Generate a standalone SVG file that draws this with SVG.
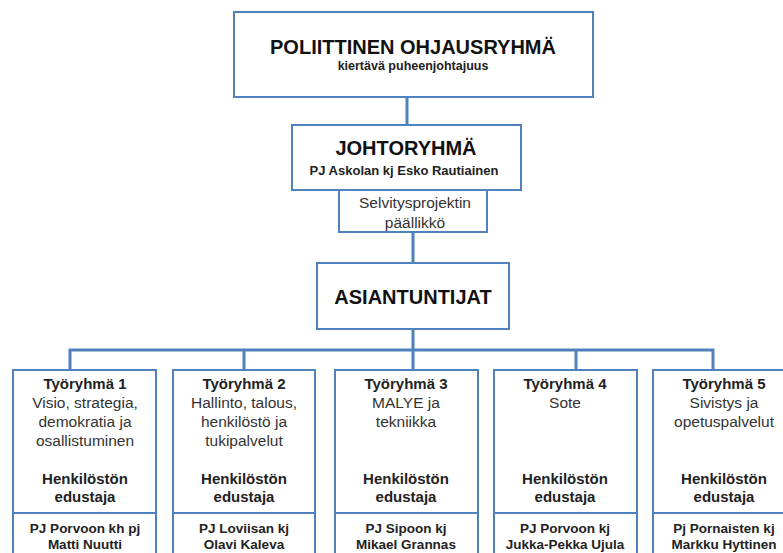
<svg xmlns="http://www.w3.org/2000/svg" width="783" height="553" viewBox="0 0 783 553">
<style>
.box{fill:#fff;stroke:#4f81bd;stroke-width:2}
.con{fill:none;stroke:#4f81bd;stroke-width:3}
text{font-family:"Liberation Sans",Arial,sans-serif;text-anchor:middle}
.h1{font-size:20px;font-weight:bold;fill:#111}
.b12{font-size:12.5px;font-weight:bold;fill:#222}
.b13{font-size:13px;font-weight:bold;fill:#222}
.b15{font-size:15px;font-weight:bold;fill:#222}
.r16{font-size:15.5px;fill:#333}
.b14{font-size:13.5px;font-weight:bold;fill:#222}
</style>
<rect width="783" height="553" fill="#fff"/>
<g id="connectors">
<line class="con" x1="407" y1="97" x2="407" y2="125"/>
<line class="con" x1="413" y1="232" x2="413" y2="263"/>
<line class="con" x1="413" y1="329" x2="413" y2="350"/>
<polyline class="con" points="70,370 70,350 713,350 713,370"/>
<line class="con" x1="244" y1="350" x2="244" y2="370"/>
<line class="con" x1="413" y1="350" x2="413" y2="370"/>
<line class="con" x1="576" y1="350" x2="576" y2="370"/>
</g>
<g id="poliittinen">
<rect class="box" x="234" y="12" width="359" height="85"/>
<text class="h1" x="413" y="54">POLIITTINEN OHJAUSRYHMÄ</text>
<text class="b12" x="413" y="70">kiertävä puheenjohtajuus</text>
</g>
<g id="johtoryhma">
<rect class="box" x="292" y="125" width="229" height="65"/>
<text class="h1" x="406" y="155">JOHTORYHMÄ</text>
<text class="b13" x="404" y="175">PJ Askolan kj Esko Rautiainen</text>
</g>
<g id="selvitys">
<rect class="box" x="339" y="190" width="148" height="42"/>
<text class="r16" x="415" y="208">Selvitysprojektin</text>
<text class="r16" x="415" y="228">päällikkö</text>
</g>
<g id="asiantuntijat">
<rect class="box" x="317" y="263" width="192" height="66"/>
<text class="h1" x="413" y="304">ASIANTUNTIJAT</text>
</g>
<g id="tr1">
<rect class="box" x="13" y="370" width="143" height="195"/>
<line class="box" x1="13" y1="513" x2="156" y2="513"/>
<text class="b15" x="85" y="389">Työryhmä 1</text>
<text class="r16" x="85" y="408">Visio, strategia,</text>
<text class="r16" x="85" y="427">demokratia ja</text>
<text class="r16" x="85" y="446">osallistuminen</text>
<text class="b15" x="85" y="484">Henkilöstön</text>
<text class="b15" x="85" y="502">edustaja</text>
<text class="b14" x="85" y="533">PJ Porvoon kh pj</text>
<text class="b14" x="85" y="549">Matti Nuutti</text>
</g>
<g id="tr2">
<rect class="box" x="173" y="370" width="142" height="195"/>
<line class="box" x1="173" y1="513" x2="315" y2="513"/>
<text class="b15" x="244" y="389">Työryhmä 2</text>
<text class="r16" x="244" y="408">Hallinto, talous,</text>
<text class="r16" x="244" y="427">henkilöstö ja</text>
<text class="r16" x="244" y="446">tukipalvelut</text>
<text class="b15" x="244" y="484">Henkilöstön</text>
<text class="b15" x="244" y="502">edustaja</text>
<text class="b14" x="244" y="533">PJ Loviisan kj</text>
<text class="b14" x="244" y="549">Olavi Kaleva</text>
</g>
<g id="tr3">
<rect class="box" x="335" y="370" width="143" height="195"/>
<line class="box" x1="335" y1="513" x2="478" y2="513"/>
<text class="b15" x="406" y="389">Työryhmä 3</text>
<text class="r16" x="406" y="408">MALYE ja</text>
<text class="r16" x="406" y="427">tekniikka</text>
<text class="b15" x="406" y="484">Henkilöstön</text>
<text class="b15" x="406" y="502">edustaja</text>
<text class="b14" x="406" y="533">PJ Sipoon kj</text>
<text class="b14" x="406" y="549">Mikael Grannas</text>
</g>
<g id="tr4">
<rect class="box" x="494" y="370" width="143" height="195"/>
<line class="box" x1="494" y1="513" x2="637" y2="513"/>
<text class="b15" x="565" y="389">Työryhmä 4</text>
<text class="r16" x="565" y="408">Sote</text>
<text class="b15" x="565" y="484">Henkilöstön</text>
<text class="b15" x="565" y="502">edustaja</text>
<text class="b14" x="565" y="533">PJ Porvoon kj</text>
<text class="b14" x="565" y="549">Jukka-Pekka Ujula</text>
</g>
<g id="tr5">
<rect class="box" x="653" y="370" width="143" height="195"/>
<line class="box" x1="653" y1="513" x2="796" y2="513"/>
<text class="b15" x="724" y="389">Työryhmä 5</text>
<text class="r16" x="724" y="408">Sivistys ja</text>
<text class="r16" x="724" y="427">opetuspalvelut</text>
<text class="b15" x="724" y="484">Henkilöstön</text>
<text class="b15" x="724" y="502">edustaja</text>
<text class="b14" x="724" y="533">Pj Pornaisten kj</text>
<text class="b14" x="724" y="549">Markku Hyttinen</text>
</g>
</svg>
